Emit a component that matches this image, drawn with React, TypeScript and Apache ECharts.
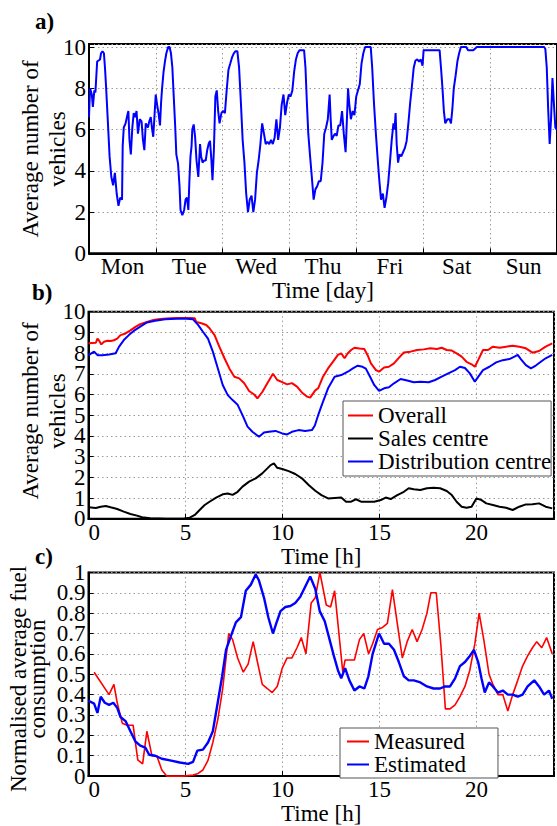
import React, { useEffect, useRef } from 'react';
import * as echarts from 'echarts';

const FONT = 'Liberation Serif';

// ---------- Panel a) : one week, average number of vehicles ----------
const dayLabels = ['Mon', 'Tue', 'Wed', 'Thu', 'Fri', 'Sat', 'Sun'];
const aDays = [
  0, 0.016, 0.042, 0.058, 0.08, 0.096, 0.122, 0.165, 0.18, 0.202, 0.223, 0.239, 0.255, 0.281, 0.308, 0.334, 0.361, 0.387,
  0.414, 0.441, 0.467, 0.494, 0.504, 0.52, 0.547, 0.573, 0.589, 0.605, 0.626, 0.648, 0.669, 0.69, 0.711, 0.732, 0.759,
  0.786, 0.807, 0.828, 0.849, 0.881, 0.902, 0.924, 0.945, 0.961, 0.982, 0.998, 1.019, 1.04, 1.062, 1.078, 1.093, 1.115,
  1.136, 1.157, 1.184, 1.205, 1.226, 1.247, 1.263, 1.29, 1.306, 1.332, 1.354, 1.369, 1.396, 1.423, 1.444, 1.465, 1.486,
  1.502, 1.518, 1.534, 1.545, 1.566, 1.587, 1.608, 1.635, 1.661, 1.677, 1.699, 1.72, 1.746, 1.768, 1.789, 1.81, 1.831,
  1.847, 1.868, 1.89, 1.911, 1.932, 1.953, 1.98, 2.006, 2.033, 2.059, 2.086, 2.113, 2.139, 2.166, 2.192, 2.219, 2.245,
  2.272, 2.298, 2.325, 2.351, 2.378, 2.404, 2.431, 2.458, 2.484, 2.511, 2.537, 2.564, 2.59, 2.617, 2.643, 2.67, 2.696,
  2.723, 2.749, 2.776, 2.803, 2.829, 2.856, 2.882, 2.909, 2.935, 2.962, 2.989, 3.015, 3.042, 3.068, 3.095, 3.121, 3.148,
  3.217, 3.238, 3.259, 3.28, 3.307, 3.333, 3.36, 3.386, 3.413, 3.439, 3.466, 3.493, 3.519, 3.546, 3.572, 3.599, 3.615,
  3.631, 3.652, 3.678, 3.705, 3.731, 3.758, 3.785, 3.811, 3.838, 3.854, 3.875, 3.891, 3.917, 3.944, 3.97, 3.997, 4.023,
  4.05, 4.076, 4.103, 4.13, 4.214, 4.236, 4.262, 4.289, 4.315, 4.342, 4.368, 4.395, 4.421, 4.448, 4.475, 4.501, 4.528,
  4.554, 4.57, 4.586, 4.602, 4.623, 4.644, 4.671, 4.697, 4.724, 4.751, 4.777, 4.804, 4.83, 4.857, 4.883, 4.91, 4.936,
  4.963, 4.989, 5.005, 5.244, 5.265, 5.287, 5.308, 5.329, 5.361, 5.393, 5.414, 5.435, 5.456, 5.483, 5.51, 5.536, 5.563,
  5.642, 5.669, 5.748, 5.801, 6.81, 6.826, 6.847, 6.868, 6.89, 6.911, 6.932, 6.953, 6.975, 6.996,
];
const aVehicles = [
  6.6, 8.0, 7.7, 7.1, 7.9, 7.8, 9.3, 9.4, 9.7, 9.8, 9.7, 9.0, 8.1, 6.45, 4.7, 3.7, 3.3, 3.9,
  2.9, 2.3, 2.7, 2.6, 5.2, 6.1, 6.3, 6.7, 6.9, 5.5, 4.8, 6.1, 6.8, 6.6, 6.9, 5.8, 6.5,
  6.4, 5.5, 5.0, 6.3, 6.1, 6.4, 6.6, 6.0, 5.65, 6.8, 7.7, 7.2, 6.8, 6.2, 7.3, 8.0, 8.8,
  9.3, 9.7, 10, 10, 9.7, 9.0, 7.9, 6.1, 4.8, 4.35, 3.25, 2.1, 1.85, 2.1, 2.6, 2.7, 2.1,
  3.55, 4.7, 5.2, 6.0, 6.25, 5.65, 4.5, 3.7, 5.3, 4.7, 4.4, 4.5, 4.5, 5.0, 5.3, 5.45, 4.5,
  3.55, 5.0, 7.6, 7.9, 6.9, 6.3, 6.8, 6.9, 6.8, 7.9, 8.9, 9.2, 9.5, 9.7, 9.8, 9.8, 9.0,
  7.3, 5.5, 4.4, 2.9, 2.0, 2.6, 2.8, 2.0, 2.6, 3.9, 4.5, 5.3, 6.3, 5.8, 5.3, 5.4, 5.3,
  5.5, 5.3, 5.6, 6.5, 5.5, 6.1, 7.2, 7.7, 6.7, 7.3, 7.7, 7.6, 7.9, 8.8, 9.4, 9.7, 9.85,
  9.85, 9.0, 7.3, 5.8, 4.7, 3.7, 2.6, 3.1, 3.25, 3.5, 3.5, 4.4, 5.8, 6.1, 6.5, 7.7, 6.5,
  5.5, 5.65, 5.8, 5.7, 6.2, 6.2, 6.9, 5.8, 4.9, 6.2, 8.0, 7.3, 6.5, 6.9, 6.7, 7.6, 7.9,
  8.2, 9.2, 9.7, 10, 10, 9.0, 7.3, 5.9, 4.7, 3.55, 2.6, 2.9, 2.2, 2.7, 3.4, 4.4, 5.5,
  6.3, 6.0, 6.8, 5.3, 4.4, 4.8, 4.7, 4.9, 5.1, 5.45, 6.3, 7.3, 8.1, 9.0, 9.35, 9.4, 9.3,
  9.4, 9.1, 9.85, 9.85, 9.0, 8.0, 6.9, 6.3, 6.5, 6.5, 6.3, 7.0, 8.0, 8.6, 9.3, 9.7, 10,
  10, 9.85, 9.85, 10, 10, 9.9, 9.0, 7.0, 5.3, 6.5, 8.5, 7.3, 6.1, 6.0,
];

// ---------- Panel b) : daily profile by centre ----------
const bOverallHours = [
  0, 0.38, 0.46, 0.55, 0.66, 0.8, 0.97, 1.14, 1.31, 1.48, 1.65, 1.91, 2.16, 2.42, 2.67, 3.01, 3.35, 3.69, 4.2, 4.71,
  5.22, 5.48, 5.56, 5.82, 6.07, 6.24, 6.5, 6.75, 7.01, 7.26, 7.52, 7.77, 8.03, 8.28, 8.54, 8.71, 8.96, 9.22, 9.51,
  9.73, 9.99, 10.24, 10.49, 10.75, 11.0, 11.26, 11.43, 11.69, 11.84, 12.09, 12.35, 12.6, 12.86, 13.03, 13.2, 13.37,
  13.54, 13.71, 13.97, 14.22, 14.39, 14.56, 14.82, 14.98, 15.24, 15.49, 15.75, 16.0, 16.26, 16.6, 16.94, 17.28, 17.62,
  17.96, 18.21, 18.47, 18.73, 18.98, 19.24, 19.49, 19.75, 19.92, 20.09, 20.34, 20.6, 20.85, 21.19, 21.53, 21.87, 22.21,
  22.55, 22.89, 23.23, 23.57, 23.91,
];
const bOverall = [
  8.47, 8.5, 8.7, 8.6, 8.42, 8.55, 8.6, 8.58, 8.62, 8.7, 8.87, 8.95, 9.1, 9.27, 9.4, 9.5, 9.6, 9.65, 9.68, 9.69,
  9.7, 9.68, 9.5, 9.44, 9.36, 9.2, 8.87, 8.3, 7.75, 7.26, 6.86, 6.78, 6.54, 6.17, 6.0, 5.81, 6.12, 6.54, 7.0,
  6.7, 6.6, 6.49, 6.55, 6.38, 6.1, 5.9, 5.85, 6.2, 6.3, 6.86, 7.26, 7.58, 7.91, 7.99, 7.75, 7.99,
  8.15, 8.26, 8.22, 8.2, 7.9, 7.5, 7.18, 7.1, 7.3, 7.34, 7.5, 7.77, 8.03, 8.07, 8.15, 8.18, 8.23,
  8.2, 8.26, 8.15, 8.12, 7.99, 7.83, 7.58, 7.46, 7.34, 7.66, 8.15, 8.15, 8.31, 8.26, 8.31, 8.36, 8.31,
  8.23, 8.02, 8.1, 8.31, 8.47,
];
const bSalesHours = [
  0, 0.38, 0.63, 0.89, 1.14, 1.48, 1.82, 2.16, 2.5, 2.76, 3.18, 4.03, 4.88, 5.22, 5.48, 5.73, 5.99, 6.24, 6.58, 6.92,
  7.18, 7.43, 7.69, 7.94, 8.28, 8.62, 8.96, 9.22, 9.39, 9.56, 9.73, 9.99, 10.32, 10.66, 11.0, 11.35, 11.69, 12.01,
  12.35, 12.69, 13.03, 13.28, 13.54, 13.79, 14.05, 14.39, 14.73, 15.07, 15.32, 15.58, 15.92, 16.26, 16.51, 16.77,
  17.11, 17.45, 17.79, 18.13, 18.47, 18.73, 18.98, 19.24, 19.49, 19.75, 20.0, 20.26, 20.51, 20.85, 21.19, 21.53,
  21.87, 22.21, 22.55, 22.89, 23.23, 23.57, 23.91,
];
const bSales = [
  0.55, 0.52, 0.58, 0.61, 0.55, 0.47, 0.34, 0.23, 0.15, 0.07, 0.02, 0, 0, 0.05, 0.18, 0.42, 0.66, 0.82, 1.02, 1.18,
  1.22, 1.15, 1.3, 1.55, 1.79, 1.95, 2.19, 2.43, 2.59, 2.67, 2.46, 2.4, 2.3, 2.16, 1.95, 1.63, 1.35, 1.14,
  0.98, 1.0, 1.02, 0.82, 0.82, 0.94, 0.82, 0.82, 0.82, 0.9, 1.02, 0.95, 1.14, 1.3, 1.47, 1.42,
  1.39, 1.47, 1.5, 1.47, 1.34, 1.14, 0.82, 0.58, 0.53, 0.58, 0.98, 0.9, 0.74, 0.66, 0.58, 0.53,
  0.42, 0.58, 0.69, 0.7, 0.74, 0.58, 0.5,
];
const bDistHours = [
  0, 0.29, 0.46, 0.72, 1.06, 1.4, 1.57, 1.82, 2.08, 2.33, 2.67, 3.01, 3.44, 3.95, 4.54, 5.05, 5.39, 5.65, 5.9, 6.16,
  6.41, 6.67, 6.92, 7.18, 7.43, 7.69, 7.94, 8.2, 8.45, 8.79, 9.05, 9.3, 9.64, 9.99, 10.24, 10.49, 10.83, 11.17, 11.52,
  11.67, 11.84, 12.03, 12.35, 12.69, 13.03, 13.37, 13.63, 13.88, 14.13, 14.3, 14.47, 14.73, 14.98, 15.24, 15.49,
  15.75, 16.09, 16.43, 16.77, 17.11, 17.54, 17.87, 18.21, 18.55, 18.9, 19.15, 19.41, 19.66, 19.92, 20.09, 20.34,
  20.67, 21.02, 21.36, 21.7, 21.96, 22.13, 22.3, 22.55, 22.81, 23.06, 23.32, 23.57, 23.91,
];
const bDist = [
  7.9, 8.07, 7.9, 7.9, 7.93, 7.99, 8.3, 8.63, 8.87, 9.07, 9.28, 9.48, 9.56, 9.63, 9.66, 9.66, 9.63, 9.36, 9.03, 8.7,
  8.07, 7.26, 6.46, 5.97, 5.73, 5.5, 5.0, 4.45, 4.2, 3.96, 4.16, 4.2, 4.24, 4.12, 4.07, 4.2, 4.28, 4.24, 4.28,
  4.5, 5.0, 5.5, 6.3, 6.86, 6.94, 7.1, 7.26, 7.39, 7.34, 7.25, 6.94, 6.46, 6.17, 6.3, 6.35,
  6.54, 6.75, 6.68, 6.59, 6.62, 6.59, 6.7, 6.86, 7.02, 7.18, 7.34, 7.28, 7.02, 6.62, 6.85, 7.18,
  7.34, 7.55, 7.66, 7.71, 7.83, 7.91, 7.7, 7.42, 7.26, 7.4, 7.58, 7.75, 7.91,
];

// ---------- Panel c) : normalised average fuel consumption ----------
const cMeasuredHours = [
  0.29, 1.06, 1.31, 1.48, 1.74, 1.99, 2.3, 2.54, 2.79, 3.01, 3.27, 3.52, 3.78, 4.03, 4.88, 5.4, 5.65, 5.9, 6.16, 6.41,
  6.67, 6.92, 7.23, 7.43, 7.69, 7.98, 8.23, 8.49, 8.71, 8.96, 9.22, 9.47, 9.73, 9.99, 10.24, 10.49, 10.75, 10.97,
  11.21, 11.48, 11.69, 11.93, 12.26, 12.48, 12.69, 12.89, 13.11, 13.23, 13.45, 13.71, 13.97, 14.19, 14.44, 14.65,
  14.9, 15.16, 15.41, 15.67, 15.92, 16.18, 16.43, 16.69, 16.94, 17.2, 17.45, 17.65, 17.93, 18.17, 18.4, 18.64,
  18.9, 19.15, 19.41, 19.66, 19.92, 20.14, 20.38, 20.65, 20.85, 21.11, 21.36, 21.62, 21.87, 22.13, 22.38, 22.64,
  22.89, 23.11, 23.37, 23.62, 23.91,
];
const cMeasured = [
  0.51, 0.4, 0.45, 0.36, 0.26, 0.25, 0.25, 0.08, 0.06, 0.22, 0.1, 0.1, 0.03, 0, 0, 0.005, 0.013, 0.03, 0.077, 0.165,
  0.28, 0.43, 0.7, 0.67, 0.58, 0.51, 0.55, 0.66, 0.56, 0.45, 0.43, 0.41, 0.44, 0.53, 0.58, 0.58, 0.63, 0.68,
  0.6, 0.85, 0.875, 1.0, 0.84, 0.83, 0.91, 0.72, 0.51, 0.57, 0.57, 0.57, 0.67, 0.7, 0.6, 0.65,
  0.72, 0.73, 0.75, 0.915, 0.75, 0.58, 0.66, 0.72, 0.66, 0.72, 0.8, 0.9, 0.9, 0.64, 0.33, 0.33,
  0.35, 0.39, 0.44, 0.52, 0.65, 0.8, 0.67, 0.5, 0.45, 0.4, 0.4, 0.32, 0.4, 0.47, 0.54, 0.59,
  0.63, 0.66, 0.63, 0.68, 0.6,
];
const cEstimatedHours = [
  0, 0.29, 0.46, 0.63, 0.84, 1.06, 1.28, 1.48, 1.65, 1.91, 2.16, 2.42, 2.67, 2.93, 3.13, 3.44, 3.78, 4.2, 4.71, 5.14,
  5.39, 5.61, 5.9, 6.16, 6.41, 6.67, 6.89, 7.09, 7.35, 7.6, 7.86, 8.11, 8.37, 8.62, 8.79, 9.05, 9.27, 9.51, 9.68,
  9.9, 10.15, 10.41, 10.66, 10.92, 11.17, 11.43, 11.69, 11.92, 12.18, 12.43, 12.65, 12.86, 13.03, 13.23, 13.45,
  13.71, 13.97, 14.22, 14.43, 14.65, 14.98, 15.24, 15.49, 15.75, 16.0, 16.26, 16.51, 16.77, 17.11, 17.45, 17.79,
  18.13, 18.38, 18.64, 18.9, 19.15, 19.41, 19.66, 19.87, 20.09, 20.26, 20.43, 20.65, 20.85, 21.11, 21.36, 21.62,
  21.87, 22.13, 22.38, 22.64, 22.98, 23.23, 23.49, 23.74, 23.91,
];
const cEstimated = [
  0.37, 0.356, 0.31, 0.39, 0.36, 0.35, 0.36, 0.335, 0.29, 0.27, 0.22, 0.17, 0.15, 0.14, 0.105, 0.1, 0.085, 0.077, 0.067, 0.06,
  0.07, 0.125, 0.13, 0.165, 0.22, 0.365, 0.49, 0.62, 0.69, 0.755, 0.78, 0.91, 0.94, 0.99, 0.96, 0.875, 0.78, 0.7, 0.75,
  0.81, 0.83, 0.835, 0.85, 0.88, 0.93, 0.98, 0.92, 0.81, 0.76, 0.67, 0.59, 0.52, 0.48, 0.53, 0.47,
  0.42, 0.44, 0.43, 0.49, 0.6, 0.7, 0.65, 0.65, 0.62, 0.56, 0.49, 0.47, 0.47, 0.46, 0.44, 0.43,
  0.43, 0.44, 0.44, 0.48, 0.54, 0.56, 0.59, 0.62, 0.56, 0.48, 0.41, 0.46, 0.44, 0.41, 0.42, 0.4,
  0.4, 0.39, 0.4, 0.44, 0.47, 0.44, 0.4, 0.42, 0.38,
];

const zip = (xs: number[], ys: number[]) => xs.map((x, i) => [x, ys[i]]);

const gridLine = { show: true, lineStyle: { color: '#9a9a9a', width: 1, type: [1.5, 3] as any } };
const axisLineStyle = { show: true, lineStyle: { color: '#000', width: 2 } };
const tickStyle = { show: true, inside: true, length: 5, lineStyle: { color: '#000', width: 1 } };
const labelText = { color: '#000', fontFamily: FONT, fontSize: 23 };
const nameText = { color: '#000', fontFamily: FONT, fontSize: 23 };

const textStyleOf = (text: string, extra: any = {}) => ({
  text,
  fontFamily: FONT,
  fontSize: 23,
  fill: '#000',
  ...extra,
});

// label formatter showing only every other step (even = true: 0,2,4.. ; false: 1,3,5..)
const stepLabel = (step: number, even: boolean, fmt: (v: number) => string) => (v: number) => {
  const k = Math.round(v / step);
  if (Math.abs(v / step - k) > 1e-6) return '';
  return (k % 2 === 0) === even ? fmt(v) : '';
};

export default function App() {
  const ref = useRef<HTMLDivElement>(null);
  useEffect(() => {
    if (!ref.current) return;
    const chart = echarts.init(ref.current, undefined, { renderer: 'svg' });
    const hourAxis = (gridIndex: number) => ({
      type: 'value',
      gridIndex,
      min: 0,
      max: 24,
      interval: 5,
      axisLine: axisLineStyle,
      axisTick: tickStyle,
      splitLine: gridLine,
      axisLabel: {
        ...labelText,
        margin: 2,
        showMinLabel: true,
        alignMinLabel: 'left',
        formatter: (v: number) => (v % 5 === 0 ? String(v) : ''),
      },
      name: 'Time [h]',
      nameLocation: 'middle',
      nameGap: 20,
      nameTextStyle: nameText,
    });
    const yMain = (gridIndex: number, max: number, interval: number, formatter: any) => ({
      type: 'value',
      gridIndex,
      min: 0,
      max,
      interval,
      axisLine: axisLineStyle,
      axisTick: tickStyle,
      splitLine: gridLine,
      axisLabel: { ...labelText, margin: 3, showMinLabel: true, showMaxLabel: true, formatter },
    });
    const yAux = (gridIndex: number, max: number, interval: number, formatter: any) => ({
      type: 'value',
      gridIndex,
      min: 0,
      max,
      interval,
      position: 'left',
      axisLine: { show: false },
      axisTick: { show: false },
      splitLine: { show: false },
      axisLabel: { ...labelText, margin: 3, showMinLabel: true, showMaxLabel: true, formatter },
    });
    const fmtInt = (v: number) => String(Math.round(v));
    const fmtTenth = (v: number) => {
      const k = Math.round(v * 10);
      return k === 0 ? '0' : k === 10 ? '1' : '0.' + k;
    };
    const option: any = {
      animation: false,
      backgroundColor: '#fff',
      grid: [
        { left: 89, top: 44, width: 470, height: 209.3, show: true, borderColor: '#000', borderWidth: 2 },
        { left: 88.5, top: 311.7, width: 470, height: 207, show: true, borderColor: '#000', borderWidth: 2 },
        { left: 88.5, top: 572.4, width: 470, height: 208.6, show: true, borderColor: '#000', borderWidth: 2 },
      ],
      xAxis: [
        {
          type: 'category',
          gridIndex: 0,
          data: dayLabels,
          boundaryGap: true,
          axisLine: axisLineStyle,
          axisTick: tickStyle,
          splitLine: gridLine,
          axisLabel: { ...labelText, margin: 2, interval: 0 },
          name: 'Time [day]',
          nameLocation: 'middle',
          nameGap: 24,
          nameTextStyle: nameText,
        },
        { type: 'value', gridIndex: 0, min: 0, max: 7, show: false },
        hourAxis(1),
        hourAxis(2),
      ],
      yAxis: [
        yMain(0, 10.15, 2, (v: number) =>
          v <= 10.001 && Math.abs(v / 2 - Math.round(v / 2)) < 1e-6 ? String(Math.round(v)) : ''),
        yMain(1, 10, 1, stepLabel(1, true, fmtInt)),
        yAux(1, 10, 1, stepLabel(1, false, fmtInt)),
        yMain(2, 1, 0.1, stepLabel(0.1, true, fmtTenth)),
        yAux(2, 1, 0.1, stepLabel(0.1, false, fmtTenth)),
      ],
      legend: [
        {
          data: ['Overall', 'Sales centre', 'Distribution centre'],
          left: 343,
          top: 401,
          orient: 'vertical',
          icon: 'rect',
          itemWidth: 25,
          itemHeight: 2,
          itemGap: 0,
          padding: [3, 0, 3, 5],
          borderColor: '#555',
          borderWidth: 1,
          backgroundColor: '#fff',
          selectedMode: false,
          textStyle: { ...labelText, lineHeight: 20 },
        },
        {
          data: ['Measured', 'Estimated'],
          left: 340,
          top: 728,
          orient: 'vertical',
          icon: 'rect',
          itemWidth: 22,
          itemHeight: 2,
          itemGap: 0,
          padding: [2, 32, 2, 7],
          borderColor: '#555',
          borderWidth: 1,
          backgroundColor: '#fff',
          selectedMode: false,
          textStyle: { ...labelText, lineHeight: 19 },
        },
      ],
      series: [
        {
          name: 'Vehicles',
          type: 'line',
          xAxisIndex: 1,
          yAxisIndex: 0,
          data: zip(aDays, aVehicles),
          symbol: 'none',
          color: '#0000ff',
          lineStyle: { color: '#0000ff', width: 2 },
        },
        {
          name: 'Overall',
          type: 'line',
          xAxisIndex: 2,
          yAxisIndex: 1,
          data: zip(bOverallHours, bOverall),
          symbol: 'none',
          color: '#ff0000',
          lineStyle: { color: '#ff0000', width: 2 },
        },
        {
          name: 'Sales centre',
          type: 'line',
          xAxisIndex: 2,
          yAxisIndex: 1,
          data: zip(bSalesHours, bSales),
          symbol: 'none',
          color: '#000000',
          lineStyle: { color: '#000000', width: 2 },
        },
        {
          name: 'Distribution centre',
          type: 'line',
          xAxisIndex: 2,
          yAxisIndex: 1,
          data: zip(bDistHours, bDist),
          symbol: 'none',
          color: '#0000ff',
          lineStyle: { color: '#0000ff', width: 2 },
        },
        {
          name: 'Measured',
          type: 'line',
          xAxisIndex: 3,
          yAxisIndex: 3,
          data: zip(cMeasuredHours, cMeasured),
          symbol: 'none',
          color: '#ff0000',
          lineStyle: { color: '#ff0000', width: 1.6 },
        },
        {
          name: 'Estimated',
          type: 'line',
          xAxisIndex: 3,
          yAxisIndex: 3,
          data: zip(cEstimatedHours, cEstimated),
          symbol: 'none',
          color: '#0000ff',
          lineStyle: { color: '#0000ff', width: 2.4 },
        },
      ],
      graphic: [
        { type: 'text', x: 35, y: 21, style: textStyleOf('a)', { fontWeight: 'bold', textVerticalAlign: 'middle' }) },
        { type: 'text', x: 32, y: 292, style: textStyleOf('b)', { fontWeight: 'bold', textVerticalAlign: 'middle' }) },
        { type: 'text', x: 35, y: 556, style: textStyleOf('c)', { fontWeight: 'bold', textVerticalAlign: 'middle' }) },
        {
          type: 'text', x: 44, y: 149, rotation: Math.PI / 2,
          style: textStyleOf('Average number of\nvehicles', { textAlign: 'center', textVerticalAlign: 'middle', lineHeight: 27 }),
        },
        {
          type: 'text', x: 44, y: 411, rotation: Math.PI / 2,
          style: textStyleOf('Average number of\nvehicles', { textAlign: 'center', textVerticalAlign: 'middle', lineHeight: 27 }),
        },
        {
          type: 'text', x: 28, y: 679, rotation: Math.PI / 2,
          style: textStyleOf('Normalised average fuel\nconsumption', { textAlign: 'center', textVerticalAlign: 'middle', lineHeight: 19 }),
        },
      ],
    };
    chart.setOption(option);
    return () => chart.dispose();
  }, []);
  return <div ref={ref} style={{ position: 'absolute', left: 0, top: 0, width: 557, height: 826 }} />;
}
